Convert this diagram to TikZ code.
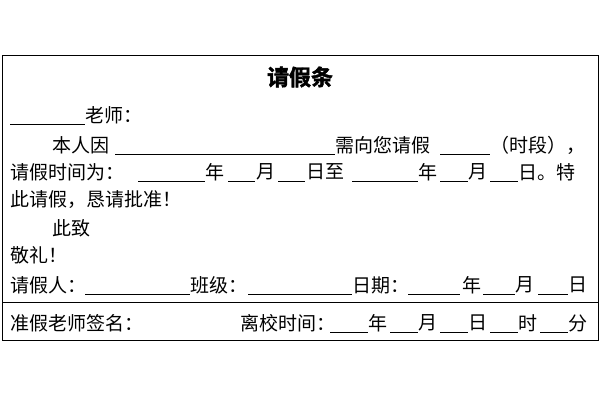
\documentclass[tikz,border=0pt]{standalone}
\usepackage{fontspec}
\newfontfamily\cjk{Noto Sans CJK SC}
\newfontfamily\cjkbold[FakeBold=2]{Noto Sans CJK SC Bold}
\begin{document}
\begin{tikzpicture}[x=1pt,y=-1pt,
    txt/.style={anchor=west,inner sep=0pt,font=\cjk\fontsize{19}{22}\selectfont},
    blank/.style={line width=0.6pt}]
\useasboundingbox (0,0) rectangle (600,400);
% outer frame and divider
\draw[line width=0.8pt] (2,55) rectangle (598,340);
\draw[line width=0.6pt] (2,302) -- (598,302);
% title
\node[font=\cjkbold\fontsize{22}{26}\selectfont] (title) at (300,77) {请假条};
% line 1
\node[txt] at (85,115) {老师：};
% line 2
\node[txt] at (52,145) {本人因};
\node[txt] at (335,145) {需向您请假};
\node[txt] at (490,145) {（时段），};
% line 3
\node[txt] at (10,172) {请假时间为：};
\node[txt] at (205,172) {年};
\node[txt] at (256,172) {月};
\node[txt] at (306,172) {日至};
\node[txt] at (418,172) {年};
\node[txt] at (468,172) {月};
\node[txt] at (518,172) {日。特};
% lines 4-6
\node[txt] at (10,200) {此请假，恳请批准！};
\node[txt] at (52,228) {此致};
\node[txt] at (10,255) {敬礼！};
% line 7
\node[txt] at (10,285) {请假人：};
\node[txt] at (190,285) {班级：};
\node[txt] at (352,285) {日期：};
\node[txt] at (462,285) {年};
\node[txt] at (515,285) {月};
\node[txt] at (568,285) {日};
% line 8
\node[txt] at (10,323) {准假老师签名：};
\node[txt] at (240,323) {离校时间：};
\node[txt] at (368,323) {年};
\node[txt] at (418,323) {月};
\node[txt] at (468,323) {日};
\node[txt] at (518,323) {时};
\node[txt] at (568,323) {分};
% blanks to fill in
\foreach \a/\b/\y in {10/85/124, 115/335/154, 440/490/154,
    138/205/181, 228/255/181, 278/305/181, 352/418/181, 440/468/181, 490/518/181,
    85/190/294, 248/352/294, 408/460/294, 483/515/294, 538/568/294,
    330/368/332, 390/418/332, 440/468/332, 490/518/332, 540/568/332}
  \draw[blank] (\a,\y) -- (\b,\y);
\end{tikzpicture}
\end{document}
